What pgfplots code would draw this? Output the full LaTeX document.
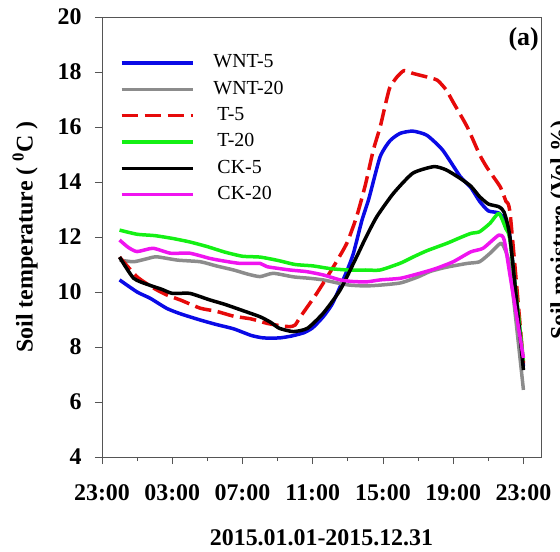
\documentclass[border=0pt]{standalone}
\usepackage{pgfplots}
\pgfplotsset{compat=1.18}
\usepackage{fontspec}
\setmainfont{Liberation Serif}
\definecolor{cblue}{RGB}{10,10,230}
\definecolor{cgray}{RGB}{140,140,140}
\definecolor{cred}{RGB}{230,10,10}
\definecolor{cgreen}{RGB}{20,240,20}
\definecolor{cmag}{RGB}{240,20,240}
\definecolor{axgray}{RGB}{85,85,85}
\begin{document}
\begin{tikzpicture}
\begin{axis}[
  at={(0,0)}, anchor=south west,
  scale only axis, width=439bp, height=440bp,
  xmin=0, xmax=25, ymin=4, ymax=20,
  xtick={0,4,8,12,16,20,24},
  xticklabels={23:00,03:00,07:00,11:00,15:00,19:00,23:00},
  minor xtick={2,6,10,14,18,22},
  ytick={4,6,...,20},
  tick align=outside, xtick pos=bottom, ytick pos=left,
  major tick length=7bp, minor tick length=4bp,
  axis line style={axgray, line width=0.9bp},
  every tick/.style={axgray, line width=0.9bp},
  /pgf/number format/assume math mode=true,
  ticklabel style={font=\bfseries\fontsize{24}{24}\selectfont},
  yticklabel style={xshift=-10bp},
  xticklabel style={yshift=-17bp},
  xlabel={2015.01.01-2015.12.31},
  ylabel={Soil temperature ( \textsuperscript{0}C )},
  label style={font=\bfseries\fontsize{24}{24}\selectfont},
  xlabel style={at={(axis description cs:0.5,-0.2)}, anchor=base},
  ylabel style={at={(axis description cs:-0.1754,0.5)}, anchor=center},
  legend style={draw=none, fill=none, at={(axis description cs:0,1)}, anchor=north west,
    xshift=18bp, yshift=-37bp, font=\fontsize{20}{20}\selectfont,
    inner sep=0pt, outer sep=0pt, row sep=8.4bp, column sep=19bp,
    nodes={inner sep=0pt, text height=14pt, text depth=4pt}},
  legend cell align=left,
  legend image code/.code={\draw[#1] (0bp,0bp) -- (71bp,0bp);},
  every axis plot/.append style={line width=3.5bp, smooth, tension=0.35, line join=round},
]
% WNT-5
\addplot[cblue] coordinates {
(1,10.44) (2,10.0) (2.75,9.77) (3.7,9.4) (4.5,9.2) (5.6,8.98) (6.5,8.82) (7.5,8.66)
(8.5,8.42) (9.2,8.33) (10.1,8.33) (10.8,8.4) (11.5,8.52) (12.0,8.7) (12.6,9.1) (13.1,9.55)
(13.56,10.19) (14.0,10.85) (14.32,11.41) (14.8,12.6) (15.2,13.4) (15.84,14.92) (16.4,15.5)
(16.98,15.77) (17.7,15.85) (18.5,15.7) (19.4,15.16) (20.4,14.2) (21.0,13.8) (21.5,13.3)
(22.0,12.95) (22.6,12.87) (23.0,12.55) (23.25,11.9) (24,7.3)};
% WNT-20
\addplot[cgray] coordinates {
(1,11.16) (1.8,11.1) (2.5,11.2) (3.1,11.28) (4.3,11.16) (5.6,11.1) (6.5,10.95) (7.5,10.8)
(8.3,10.65) (9.0,10.56) (9.75,10.68) (10.9,10.55) (11.8,10.5) (12.6,10.44) (13.4,10.33)
(14.1,10.25) (15.0,10.22) (15.84,10.25) (17.0,10.33) (18.0,10.55) (18.7,10.75) (19.6,10.9)
(20.8,11.04) (21.5,11.1) (22.1,11.41) (22.7,11.77) (22.95,11.55) (23.25,10.8) (24,6.44)};
% T-5
\addplot[cred, dash pattern=on 16.5bp off 6.5bp] coordinates {
(1,11.27) (2,10.55) (3,10.12) (3.7,9.89) (4.5,9.7) (5.6,9.41) (6.5,9.3) (7.5,9.12)
(8.5,9.02) (9.4,8.86) (10.1,8.78) (10.7,8.74) (11.0,8.8) (11.3,9.1) (12.23,9.95)
(13.18,10.92) (13.94,11.77) (14.5,12.74) (15.0,13.9) (15.45,15.16) (15.84,16.0) (16.2,16.98)
(16.4,17.45) (16.8,17.82) (17.2,18.05) (17.7,17.95) (18.5,17.82) (19.1,17.7) (19.6,17.35)
(20.0,16.9) (20.8,16.0) (21.5,15.0) (21.9,14.55) (22.3,14.18) (22.7,13.8) (23.0,13.3)
(23.25,12.8) (24,7.4)};
% T-20
\addplot[cgreen] coordinates {
(1,12.25) (2,12.1) (3,12.05) (4,11.95) (5,11.82) (6,11.65) (7,11.45) (8,11.3) (9,11.27)
(10,11.15) (11,11.0) (12,10.95) (13,10.85) (14,10.8) (15,10.8) (15.84,10.8) (17,11.05)
(17.74,11.28) (18.5,11.5) (19.64,11.77) (20.3,11.95) (21,12.13) (21.5,12.19) (22.1,12.5)
(22.6,12.86) (23.0,12.3) (23.25,11.8) (24,7.5)};
% CK-5
\addplot[black] coordinates {
(1,11.27) (1.8,10.5) (2.7,10.25) (3.4,10.1) (4.0,9.95) (5.0,9.95) (6.1,9.72) (7.0,9.55)
(7.9,9.35) (9.0,9.1) (9.6,8.9) (10.1,8.68) (10.9,8.56) (11.7,8.68) (12.6,9.23) (13.56,10.07)
(14.5,11.28) (15.0,11.95) (15.65,12.74) (16.6,13.59) (17.7,14.32) (18.9,14.56) (19.6,14.44)
(20.4,14.13) (21.0,13.85) (21.5,13.47) (22.0,13.2) (22.6,13.1) (22.9,12.9) (23.25,11.9) (24,7.16)};
% CK-20
\addplot[cmag] coordinates {
(1,11.89) (1.5,11.62) (2.0,11.47) (2.9,11.59) (3.9,11.41) (5.0,11.41) (6.15,11.22) (7.0,11.12)
(7.86,11.04) (9.0,11.04) (9.4,10.92) (10.7,10.8) (11.66,10.74) (12.6,10.62) (13.56,10.44)
(14.3,10.38) (15.1,10.37) (15.84,10.44) (17.0,10.5) (18.1,10.68) (19.0,10.85) (20.0,11.1)
(21.0,11.46) (21.7,11.59) (22.6,12.07) (22.9,11.9) (23.25,10.55) (24,7.6)};
\legend{WNT-5, WNT-20, \hspace*{4bp}T-5, \hspace*{4bp}T-20, \hspace*{4bp}CK-5, \hspace*{4bp}CK-20}
\node[anchor=north east, inner sep=0pt, font=\bfseries\fontsize{26}{26}\selectfont]
  at (rel axis cs:1,1) [xshift=-2bp, yshift=-10bp] {(a)};
\end{axis}
\node[rotate=90, anchor=north, inner sep=0pt, font=\bfseries\fontsize{24}{24}\selectfont]
  at (448bp,227bp) {Soil moisture (Vol \%)};
\pgfresetboundingbox
\useasboundingbox (-102bp,-95bp) rectangle (458bp,457bp);
\end{tikzpicture}
\end{document}
